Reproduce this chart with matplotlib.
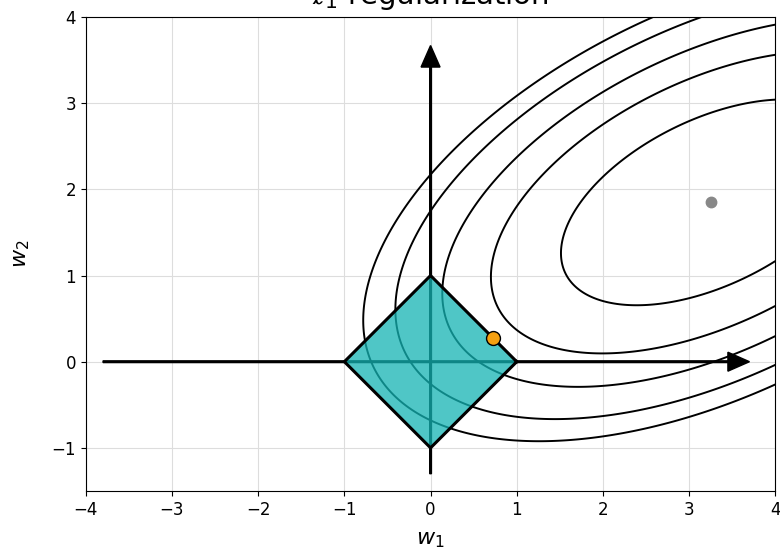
import numpy as np
import matplotlib.pyplot as plt

# unconstrained optimum (grey dot) and the l1 solution (orange dot)
w_star = (3.25, 1.85)
w_l1 = (0.72, 0.28)

# quadratic loss around w_star: a*dx^2 + 2*b*dx*dy + dy^2 (fitted to the traced contours)
quad_a = 0.4731
quad_b = -0.3398
levels = [1.079, 2.325, 3.468, 4.786, 5.812]

# l1 ball |w1| + |w2| <= 1
diamond_x = [1, 0, -1, 0, 1]
diamond_y = [0, 1, 0, -1, 0]

fig = plt.figure(figsize=(7.8, 5.51), dpi=100)
ax = fig.add_axes([0.110, 0.109, 0.884, 0.860])

# loss contours
x = np.linspace(-4, 4, 400)
y = np.linspace(-1.5, 4, 300)
X, Y = np.meshgrid(x, y)
DX, DY = X - w_star[0], Y - w_star[1]
J = quad_a * DX ** 2 + 2 * quad_b * DX * DY + DY ** 2
ax.contour(X, Y, J, levels=levels, colors='k', linewidths=1.4, zorder=2)

# coordinate axes as arrows
ax.arrow(-3.8, 0, 7.5, 0, width=0.02, head_width=0.22, head_length=0.25,
         length_includes_head=True, fc='k', ec='k', zorder=3)
ax.arrow(0, -1.3, 0, 4.97, width=0.02, head_width=0.22, head_length=0.25,
         length_includes_head=True, fc='k', ec='k', zorder=3)

# constraint region
ax.fill(diamond_x, diamond_y, color='#14b4b4', alpha=0.75, zorder=4, lw=0)
ax.plot(diamond_x, diamond_y, color='k', lw=2.2, zorder=5)

ax.plot(*w_star, 'o', color='#888888', ms=7.5, zorder=6)
ax.plot(*w_l1, 'o', color='#f5a010', mec='k', ms=10, zorder=6)

ax.set_xlim(-4, 4)
ax.set_ylim(-1.5, 4)
ax.grid(True, color='#dddddd')
ax.tick_params(labelsize=12)
ax.set_xlabel('$w_1$', fontsize=16, labelpad=8)
ax.set_ylabel('$w_2$', fontsize=16, labelpad=14)
# title sits partly above the top edge, as in the original crop
fig.text(430 / 780, (551 - 4) / 551, r'$\ell_1$ regularization', ha='center', va='baseline', fontsize=21)

fig.savefig('out.png')
